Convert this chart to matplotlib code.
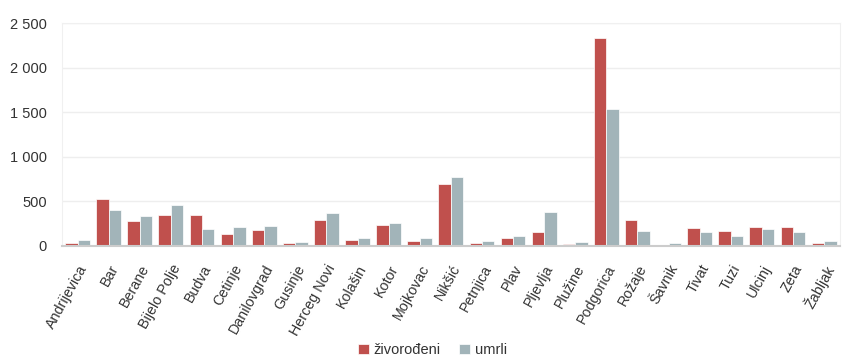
import numpy as np
import matplotlib.pyplot as plt
from matplotlib.ticker import FuncFormatter

plt.rcParams['font.family'] = ['Liberation Sans', 'DejaVu Sans']

municipalities = ["Andrijevica", "Bar", "Berane", "Bijelo Polje", "Budva", "Cetinje",
                  "Danilovgrad", "Gusinje", "Herceg Novi", "Kolašin", "Kotor", "Mojkovac",
                  "Nikšić", "Petnjica", "Plav", "Pljevlja", "Plužine", "Podgorica",
                  "Rožaje", "Šavnik", "Tivat", "Tuzi", "Ulcinj", "Zeta", "Žabljak"]
zivorodjeni = [30, 526, 275, 346, 338, 132, 177, 25, 287, 62, 231, 54,
               696, 25, 84, 152, 15, 2333, 287, 0, 197, 163, 205, 208, 28]
umrli = [61, 399, 331, 455, 185, 203, 222, 40, 363, 88, 253, 88,
         771, 51, 104, 377, 43, 1533, 160, 28, 149, 107, 182, 149, 54]

red = "#C0504D"
grey = "#A2B4B9"

fig = plt.figure(figsize=(8.65, 3.6), dpi=100)
ax = fig.add_axes([0.0717, 0.318, 0.899, 0.617])

x = np.arange(len(municipalities))
w = 0.4
ax.bar(x - w / 2, zivorodjeni, w, color=red, edgecolor="white", linewidth=0.5, label="živorođeni", zorder=3)
ax.bar(x + w / 2, umrli, w, color=grey, edgecolor="white", linewidth=0.5, label="umrli", zorder=3)

ax.set_xlim(-0.5, len(municipalities) - 0.5)
ax.set_ylim(0, 2500)
ax.set_yticks(range(0, 2501, 500))
ax.yaxis.set_major_formatter(FuncFormatter(lambda v, p: f"{int(v):,}".replace(",", " ")))
ax.grid(axis="y", color="#EEEEEE", linewidth=1, zorder=0)

for s in ["left", "right", "top"]:
    ax.spines[s].set_color("#F0F0F0")
ax.spines["bottom"].set_color("#CCCCCC")
ax.spines["bottom"].set_linewidth(1.5)
ax.spines["bottom"].set_zorder(4)

ax.set_xticks(x)
ax.set_xticklabels(municipalities, rotation=61, ha="right", rotation_mode="anchor",
                   fontsize=10.3, color="#333333")
ax.tick_params(axis="x", length=0, pad=12)
ax.tick_params(axis="y", length=0, labelsize=10.5, labelcolor="#333333", pad=11)

fig.legend(loc="lower center", bbox_to_anchor=(0.5, -0.028), ncol=2, frameon=False,
           fontsize=10.5, handlelength=0.75, handleheight=0.75, columnspacing=1.3,
           handletextpad=0.3, labelcolor="#333333")

fig.savefig("out.png", dpi=100)
